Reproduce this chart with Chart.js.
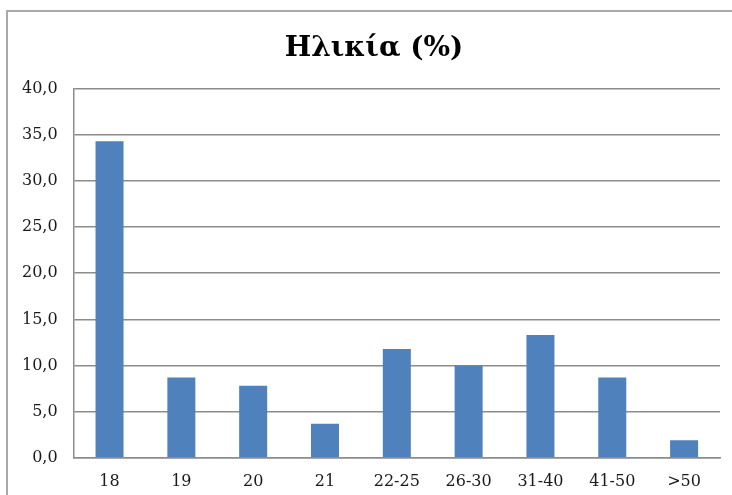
<!DOCTYPE html>
<html>
<head>
<meta charset="utf-8">
<script src="https://cdn.jsdelivr.net/npm/chart.js@4"></script>
<style>
    html, body { margin: 0; padding: 0; background: #fff; overflow: hidden; }
    #wrap { position: relative; width: 732px; height: 495px; }
    #frame {
        position: absolute; left: 6px; top: 10px; width: 740px; height: 500px;
        border-top: 2px solid #a9a9a9; border-left: 2px solid #a9a9a9;
    }
    canvas { position: absolute; left: 0; top: 0; }
</style>
</head>
<body>
<div id="wrap">
    <div id="frame"></div>
    <canvas id="ageChart" width="732" height="495"></canvas>
</div>
<script>
// Chart data
const ageGroups = ['18', '19', '20', '21', '22-25', '26-30', '31-40', '41-50', '>50'];
const agePercent = [34.3, 8.7, 7.8, 3.7, 11.8, 10.0, 13.3, 8.7, 1.9];
const yTicks = [0, 5, 10, 15, 20, 25, 30, 35, 40];

const colors = {
    bar: '#4f81bd',
    grid: '#8c8c8c',
    text: '#1a1a1a'
};

Chart.defaults.font.family = '"DejaVu Serif", "Liberation Serif", serif';
Chart.defaults.color = colors.text;

// Center the title over the whole frame, not just the padded box
const titleShift = {
    id: 'titleShift',
    afterLayout(chart) {
        if (chart.titleBlock) chart.titleBlock.left += 22;
    }
};

const ctx = document.getElementById('ageChart');

new Chart(ctx, {
    type: 'bar',
    data: {
        labels: ageGroups,
        datasets: [{
            label: 'Ηλικία (%)',
            data: agePercent,
            backgroundColor: colors.bar,
            borderWidth: 0,
            barPercentage: 0.39,
            categoryPercentage: 1
        }]
    },
    options: {
        responsive: false,
        animation: false,
        layout: {
            padding: { top: 26, left: 6, right: 12, bottom: -10 }
        },
        plugins: {
            legend: { display: false },
            tooltip: { enabled: false },
            title: {
                display: true,
                text: 'Ηλικία (%)',
                color: '#000',
                font: { size: 28, weight: 'bold' },
                padding: { top: 6, bottom: 23 }
            }
        },
        scales: {
            x: {
                grid: { display: false, drawTicks: false },
                border: { display: true, color: colors.grid, width: 1.5 },
                ticks: {
                    font: { size: 16 },
                    padding: 14,
                    maxRotation: 0
                }
            },
            y: {
                min: yTicks[0],
                max: yTicks[yTicks.length - 1],
                afterBuildTicks: (axis) => {
                    axis.ticks = yTicks.map(v => ({ value: v }));
                },
                grid: { color: colors.grid, lineWidth: 1.5, drawTicks: false },
                border: { display: true, color: colors.grid, width: 1.5 },
                ticks: {
                    font: { size: 16 },
                    padding: 16,
                    callback: (value) => value.toFixed(1).replace('.', ',')
                }
            }
        }
    },
    plugins: [titleShift]
});
</script>
</body>
</html>
